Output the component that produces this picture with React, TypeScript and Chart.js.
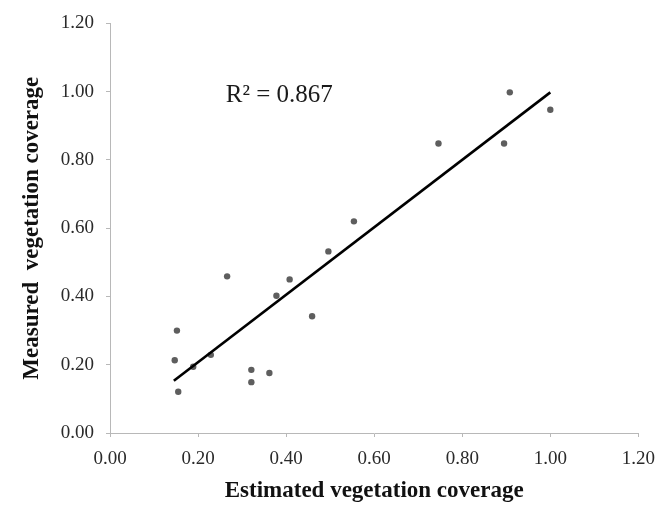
import React, { useEffect, useRef } from "react";
import { Chart, registerables } from "chart.js";

Chart.register(...registerables);

const estimated = [0.147, 0.152, 0.155, 0.189, 0.229, 0.266, 0.321, 0.321, 0.362, 0.378, 0.408, 0.459, 0.496, 0.554, 0.746, 0.895, 0.908, 1.0];
const measured = [0.213, 0.3, 0.121, 0.194, 0.229, 0.459, 0.185, 0.149, 0.176, 0.402, 0.45, 0.342, 0.532, 0.62, 0.848, 0.848, 0.998, 0.947];
const trendX = [0.145, 1.0];
const trendY = [0.153, 0.998];
const axisTicks = [0, 0.2, 0.4, 0.6, 0.8, 1.0, 1.2];
const r2Label = "R² = 0.867";
const xTitle = "Estimated vegetation coverage";
const yTitle = "Measured  vegetation coverage";

const annotationPlugin = {
  id: "r2text",
  afterDatasetsDraw(chart: any) {
    const { ctx, scales } = chart;
    const x = scales.x.getPixelForValue(0.263);
    const y = scales.y.getPixelForValue(0.97);
    ctx.save();
    ctx.font = "25px 'Liberation Serif'";
    ctx.fillStyle = "#1a1a1a";
    ctx.textAlign = "left";
    ctx.textBaseline = "alphabetic";
    ctx.fillText(r2Label, x, y);
    ctx.restore();
  },
};

export default function App() {
  const ref = useRef<HTMLCanvasElement | null>(null);
  useEffect(() => {
    document.body.style.margin = "0";
    const canvas = ref.current!;
    const chart = new Chart(canvas, {
      type: "scatter",
      data: {
        datasets: [
          {
            type: "line",
            data: trendX.map((x, i) => ({ x, y: trendY[i] })),
            borderColor: "#000",
            borderWidth: 2.6,
            pointRadius: 0,
            fill: false,
          } as any,
          {
            data: estimated.map((x, i) => ({ x, y: measured[i] })),
            backgroundColor: "#5e5e5e",
            borderWidth: 0,
            pointRadius: 3.2,
          },
        ],
      },
      options: {
        responsive: false,
        animation: false,
        layout: { padding: { top: 17, right: 26, left: 0, bottom: 0 } },
        plugins: { legend: { display: false }, tooltip: { enabled: false } },
        scales: {
          x: {
            type: "linear",
            min: 0,
            max: 1.2,
            afterBuildTicks: (s: any) => {
              s.ticks = axisTicks.map((v) => ({ value: v }));
            },
            afterFit: (s: any) => {
              s.height = 76;
            },
            ticks: {
              callback: (v: any) => Number(v).toFixed(2),
              font: { family: "'Liberation Serif'", size: 19 },
              color: "#2a2a2a",
              padding: 11,
              maxRotation: 0,
            },
            grid: { drawOnChartArea: false, tickLength: 4, color: "#b8b8b8" },
            border: { color: "#b8b8b8", width: 1 },
            title: {
              display: true,
              text: xTitle,
              font: { family: "'Liberation Serif'", size: 23, weight: "bold" },
              color: "#111",
              padding: { top: 0, bottom: 4 },
            },
          },
          y: {
            type: "linear",
            min: 0,
            max: 1.2,
            afterBuildTicks: (s: any) => {
              s.ticks = axisTicks.map((v) => ({ value: v }));
            },
            afterFit: (s: any) => {
              s.width = 110;
            },
            ticks: {
              callback: (v: any) => Number(v).toFixed(2),
              font: { family: "'Liberation Serif'", size: 19 },
              color: "#2a2a2a",
              padding: 12,
            },
            grid: { drawOnChartArea: false, tickLength: 4, color: "#b8b8b8" },
            border: { color: "#b8b8b8", width: 1 },
            title: {
              display: true,
              text: yTitle,
              font: { family: "'Liberation Serif'", size: 23, weight: "bold" },
              color: "#111",
              padding: { top: 18, bottom: 0 },
            },
          },
        },
      },
      plugins: [annotationPlugin],
    });
    return () => chart.destroy();
  }, []);
  return <canvas ref={ref} width={666} height={509} style={{ display: "block", width: 666, height: 509 }} />;
}
